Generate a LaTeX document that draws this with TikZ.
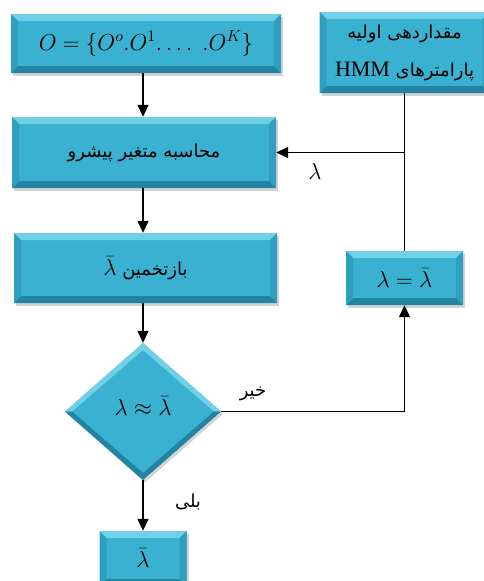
\documentclass[tikz,border=0pt]{standalone}
\usepackage{fix-cm}
\usepackage{fontspec}
\setmainfont{Liberation Serif}
\newfontfamily\farsi[Script=Arabic]{DejaVu Sans}
\TeXXeTstate=1
\usetikzlibrary{shapes.geometric,arrows.meta,calc,shadows}

\definecolor{boxmid}{RGB}{58,177,208}
\definecolor{boxlight}{RGB}{112,208,232}
\definecolor{boxdark}{RGB}{34,132,162}
\definecolor{boxside}{RGB}{48,158,190}
\def\bev{7pt}

\tikzset{
  flowbox/.style={rectangle, fill=boxmid, inner sep=0pt, align=center,
    drop shadow={shadow xshift=2pt, shadow yshift=-2.5pt, opacity=0.35},
    path picture={
      \path (path picture bounding box.south west) coordinate (pa)
            (path picture bounding box.north east) coordinate (pb);
      % top and bottom bevels
      \fill[boxlight] (pa |- pb) -- (pb) -- ($(pb)+(-\bev,-\bev)$) -- ($(pa |- pb)+(\bev,-\bev)$) -- cycle;
      \fill[boxdark] (pa) -- (pb |- pa) -- ($(pb |- pa)+(-\bev,\bev)$) -- ($(pa)+(\bev,\bev)$) -- cycle;
      % side bevels
      \fill[boxside] (pa) -- (pa |- pb) -- ($(pa |- pb)+(\bev,-\bev)$) -- ($(pa)+(\bev,\bev)$) -- cycle;
      \fill[boxside] (pb |- pa) -- (pb) -- ($(pb)+(-\bev,-\bev)$) -- ($(pb |- pa)+(-\bev,\bev)$) -- cycle;
    }},
  decision/.style={diamond, fill=boxmid, inner sep=0pt,
    drop shadow={shadow xshift=2pt, shadow yshift=-2.5pt, opacity=0.35},
    path picture={
      \path (path picture bounding box.west) coordinate (dw)
            (path picture bounding box.north) coordinate (dn)
            (path picture bounding box.east) coordinate (de)
            (path picture bounding box.south) coordinate (ds);
      \fill[boxlight] (dw) -- (dn) -- ($(dn)+(0,-\bev)$) -- ($(dw)+(\bev,0)$) -- cycle;
      \fill[boxlight] (de) -- (dn) -- ($(dn)+(0,-\bev)$) -- ($(de)+(-\bev,0)$) -- cycle;
      \fill[boxdark] (dw) -- (ds) -- ($(ds)+(0,\bev)$) -- ($(dw)+(\bev,0)$) -- cycle;
      \fill[boxdark] (de) -- (ds) -- ($(ds)+(0,\bev)$) -- ($(de)+(-\bev,0)$) -- cycle;
    }},
  arrow/.style={line width=1.4pt, -{Triangle[length=12pt,width=11pt]}},
  link/.style={line width=1.4pt},
  fa/.style={font=\fontsize{18}{24}\farsi},
  mth/.style={font=\fontsize{23}{27}\selectfont}
}

\begin{document}
\begin{tikzpicture}[x=1pt,y=1pt]
  \useasboundingbox (0,0) rectangle (484,-581);

  % boxes of the chart
  \node[flowbox, mth, minimum width=270, minimum height=59] (obs) at (146,-43.5)
    {$O=\{O^{o}.O^{1}.\ldots\;.O^{K}\}$};
  \node[flowbox, font=\fontsize{18}{38}\farsi, minimum width=170, minimum height=81] (init) at (404.5,-52.5)
    {\beginR مقداردهی اولیه\endR\\
     \beginR پارامترهای \beginL{\fontsize{22}{38}\rmfamily HMM}\endL\endR};
  \node[flowbox, fa, minimum width=264, minimum height=71] (fwd) at (144,-152.5)
    {\beginR محاسبه متغیر پیشرو\endR};
  \node[flowbox, fa, minimum width=263, minimum height=70] (est) at (145.5,-268)
    {\beginR بازتخمین \beginL{\fontsize{23}{27}\selectfont$\bar{\lambda}$}\endL\endR};
  \node[flowbox, mth, minimum width=117, minimum height=54] (upd) at (404.5,-278)
    {$\lambda=\bar{\lambda}$};
  \node[decision, mth, minimum width=156, minimum height=137] (test) at (143,-411.5)
    {\raisebox{10pt}{$\lambda\approx\bar{\lambda}$}};
  \node[flowbox, mth, minimum width=87, minimum height=55] (res) at (143,-558.5)
    {$\bar{\lambda}$};

  % connectors
  \coordinate (join) at (init.south |- fwd.east);
  \draw[arrow] (obs.south -| test.north) -- (fwd.north -| test.north);
  \draw[link] (init.south) -- (upd.north);
  \draw[arrow] (join) -- (fwd.east);
  \draw[arrow] (fwd.south -| test.north) -- (est.north -| test.north);
  \draw[arrow] (est.south -| test.north) -- (test.north);
  \draw[arrow] (test.east) -| (upd.south);
  \draw[arrow] (test.south) -- (res.north);

  % labels
  \node[mth] (lamlbl) at (315,-172) {$\lambda$};
  \node[fa] (nolbl) at (253,-394) {\beginR خیر\endR};
  \node[fa] (yeslbl) at (188,-502) {\beginR بلی\endR};
\end{tikzpicture}
\end{document}
